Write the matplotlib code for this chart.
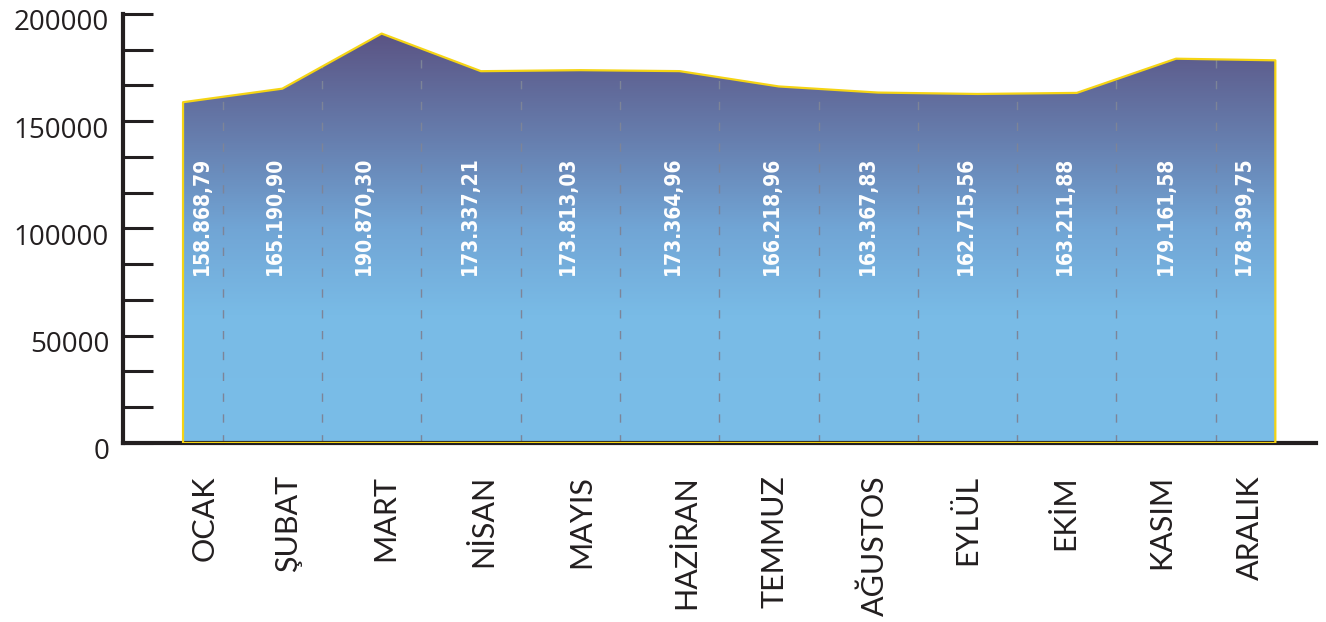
import numpy as np
import matplotlib
matplotlib.use('Agg')
import matplotlib.pyplot as plt
import matplotlib.transforms as mtransforms
from matplotlib.colors import LinearSegmentedColormap

months = ['OCAK', 'ŞUBAT', 'MART', 'NİSAN', 'MAYIS', 'HAZİRAN',
          'TEMMUZ', 'AĞUSTOS', 'EYLÜL', 'EKİM', 'KASIM', 'ARALIK']
values = [158868.79, 165190.90, 190870.30, 173337.21, 173813.03, 173364.96,
          166218.96, 163367.83, 162715.56, 163211.88, 179161.58, 178399.75]
value_labels = ['158.868,79', '165.190,90', '190.870,30', '173.337,21',
                '173.813,03', '173.364,96', '166.218,96', '163.367,83',
                '162.715,56', '163.211,88', '179.161,58', '178.399,75']

# label positions (in month index units)
month_label_x = [0.22, 1.06, 2.04, 3.02, 4.01, 5.07, 5.96, 6.96, 7.9, 8.88, 9.85, 10.74]
value_label_x = [0.19, 0.93, 1.82, 2.89, 3.88, 4.93, 5.93, 6.9, 7.88, 8.88, 9.9, 10.68]
divider_x = [i + 0.4 for i in range(11)]

fig = plt.figure(figsize=(13.26, 6.22), dpi=100)
ax = fig.add_axes([0.0928, 0.2878, 0.8997, 0.6897])

x = np.arange(len(values))
poly = ax.fill_between(x, 0, values, facecolor='none', edgecolor='#f5d414',
                       linewidth=1.6, zorder=3)

# vertical gradient, clipped to the area
cmap = LinearSegmentedColormap.from_list('grad', [
    (0.0, '#7abde8'), (0.3, '#79bbe6'), (0.5, '#71a5d5'),
    (0.7, '#6780b0'), (0.95, '#5b5585'), (1.0, '#5a5383')])
grad = np.linspace(0, 1, 256).reshape(-1, 1)
img = ax.imshow(grad, cmap=cmap, origin='lower', aspect='auto',
                extent=[0, len(values) - 1, 0, 200000], zorder=1)
path = poly.get_paths()[0]
img.set_clip_path(path, ax.transData)

for dx in divider_x:
    ln = ax.axvline(dx, color='#7d8498', linewidth=1.0, linestyle=(0, (6, 9)), zorder=2)
    ln.set_clip_path(path, ax.transData)

for lx, txt in zip(value_label_x, value_labels):
    ax.text(lx, 105800, txt, rotation=90, ha='center', va='center',
            color='white', fontsize=15, fontweight='bold',
            family='DejaVu Sans', fontstretch='condensed', zorder=4)

ax.set_xlim(-0.604, 11.41)
ax.set_ylim(0, 200000)
ax.set_xticks([])
ax.set_yticks([0, 50000, 100000, 150000, 200000])
ax.set_yticks(np.arange(0, 200001, 50000 / 3), minor=True)
ax.set_yticklabels(['0', '50000', '100000', '150000', '200000'])
ax.tick_params(axis='y', which='both', direction='in', length=21.6, width=2.2,
               color='#231f20', pad=10, labelsize=20, labelcolor='#231f20')
for lab in ax.get_yticklabels():
    lab.set_family('Open Sans')
    lab.set_transform(lab.get_transform() +
                      mtransforms.ScaledTranslation(0, -6 / 100, fig.dpi_scale_trans))

for side in ['top', 'right']:
    ax.spines[side].set_visible(False)
for side in ['left', 'bottom']:
    ax.spines[side].set_linewidth(3)
    ax.spines[side].set_color('#231f20')

for lx, m in zip(month_label_x, months):
    ax.text(lx, -15000, m, rotation=90, ha='center', va='top', fontsize=22,
            family='Lato', fontweight='normal', color='#231f20', clip_on=False)

fig.savefig('out.png', dpi=100)
